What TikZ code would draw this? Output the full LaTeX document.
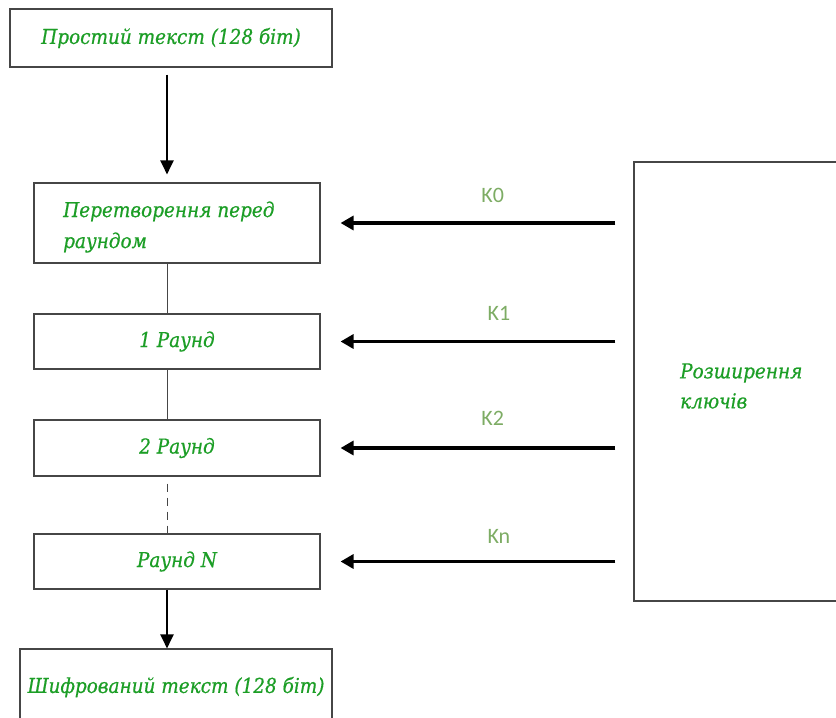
\documentclass[tikz,border=0pt]{standalone}
\usepackage{fontspec}
\setmainfont{DejaVu Serif Condensed}[ItalicFeatures={FakeBold=0.6}]
\newfontfamily\keyfont{Carlito}
\usetikzlibrary{arrows.meta}
\definecolor{txtgreen}{RGB}{28,158,38}
\definecolor{keygreen}{RGB}{125,172,100}
\definecolor{edge}{RGB}{70,70,70}
\tikzset{
  blk/.style={draw=edge, line width=1.1pt, fill=white, inner sep=0pt,
    font=\itshape\fontsize{20.5}{31}\selectfont, text=txtgreen},
  blktext/.style={font=\itshape\fontsize{20.5}{31}\selectfont, text=txtgreen,
    align=left, anchor=west, inner sep=0pt},
  flow/.style={line width=2pt, -{Triangle[length=14pt,width=13pt]}},
  link/.style={draw=edge, line width=1pt},
  keyarrow/.style={line width=3.2pt, -{Triangle[length=13pt,width=14pt]},
    shorten <=18pt, shorten >=20pt},
  keylbl/.style={font=\keyfont\fontsize{22}{24}\selectfont, text=keygreen}
}
\begin{document}
\begin{tikzpicture}[x=1pt,y=-1pt]
  \useasboundingbox (0,0) rectangle (836,718);
  \coordinate (spine) at (167,0);
  \begin{scope}
    \clip (0,0) rectangle (836,718);
    % encryption pipeline
    \node[blk, minimum width=322pt, minimum height=58pt] (plain) at (171,38) {Простий текст (128 біт)};
    \node[blk, minimum width=286pt, minimum height=80pt] (pre) at (177,223) {};
    \node[blktext] (pretext) at (63,227) {Перетворення перед\\раундом};
    \node[blk, minimum width=286pt, minimum height=55pt] (r1) at (177,341.5) {1 Раунд};
    \node[blk, minimum width=286pt, minimum height=56pt] (r2) at (177,448) {2 Раунд};
    \node[blk, minimum width=286pt, minimum height=55pt] (rn) at (177,561.5) {Раунд N};
    \node[blk, minimum width=312pt, minimum height=76pt] (cipher) at (176,687) {Шифрований текст (128 біт)};
    % key schedule
    \node[blk, minimum width=226pt, minimum height=439pt] (keys) at (747,381.5) {};
    \node[blktext, font=\itshape\fontsize{20.5}{30}\selectfont] (keystext) at (680,386) {Розширення\\ключів};
  \end{scope}
  % vertical connections
  \draw[flow, shorten <=7pt, shorten >=8pt] (plain.south -| spine) -- (pre.north -| spine);
  \draw[link] (pre.south -| spine) -- (r1.north -| spine);
  \draw[link] (r1.south -| spine) -- (r2.north -| spine);
  \draw[link, dashed, dash pattern=on 8pt off 6pt, shorten <=7pt] (r2.south -| spine) -- (rn.north -| spine);
  \draw[flow] (rn.south -| spine) -- (cipher.north -| spine);
  % round keys
  \draw[keyarrow] (keys.west |- pre.east) -- (pre.east)
    node[keylbl, pos=0.45, yshift=28pt] (k0) {K0};
  \draw[keyarrow] (keys.west |- r1.east) -- (r1.east)
    node[keylbl, pos=0.43, yshift=28pt] (k1) {K1};
  \draw[keyarrow] (keys.west |- r2.east) -- (r2.east)
    node[keylbl, pos=0.45, yshift=30pt] (k2) {K2};
  \draw[keyarrow] (keys.west |- rn.east) -- (rn.east)
    node[keylbl, pos=0.43, yshift=25pt] (kn) {Kn};
\end{tikzpicture}
\end{document}
